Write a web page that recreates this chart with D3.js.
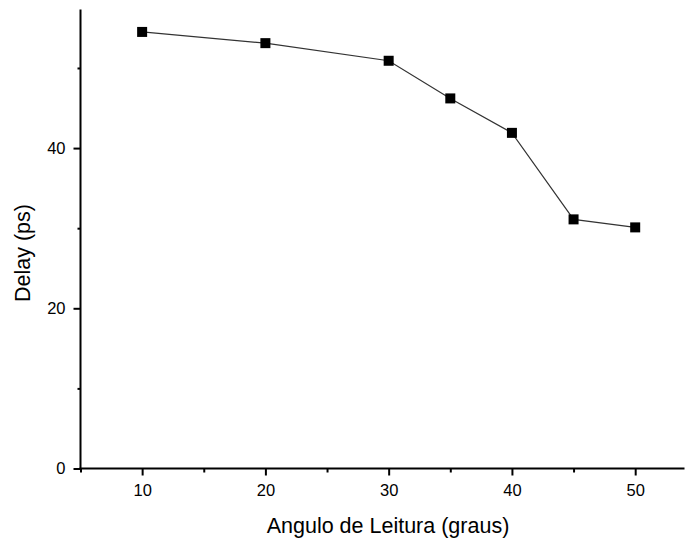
<!DOCTYPE html>
<html>
<head>
<meta charset="utf-8">
<script src="https://cdn.jsdelivr.net/npm/d3@7"></script>
<style>
  html, body { margin: 0; padding: 0; background: #fff; }
  svg { display: block; }
  text { font-family: "Liberation Sans", Arial, sans-serif; fill: #000; }
</style>
</head>
<body>
<svg id="chart" width="688" height="544"></svg>
<script>
// Reading angle (degrees) and measured delay (ps)
const angles = [10, 20, 30, 35, 40, 45, 50];
const delays = [54.5, 53.1, 50.9, 46.2, 41.9, 31.1, 30.1];
const xTicks = [10, 20, 30, 40, 50];
const xMinorTicks = [5, 15, 25, 35, 45];
const yTicks = [0, 20, 40];
const yMinorTicks = [10, 30, 50];

(function () {
  const svg = d3.select("#chart");
  const plotLeft = 80.5, plotRight = 684.5, plotTop = 9.5, plotBottom = 468.5;

  const x = d3.scaleLinear().domain([5, 54]).range([plotLeft, plotRight]);
  const y = d3.scaleLinear().domain([0, 57.3]).range([plotBottom, plotTop]);

  // Minor ticks
  svg.append("g")
    .attr("transform", `translate(0,${plotBottom})`)
    .call(d3.axisBottom(x).tickValues(xMinorTicks).tickSize(4).tickFormat(""))
    .call(g => g.select(".domain").remove())
    .call(g => g.selectAll("line").attr("stroke", "#000").attr("stroke-width", 2));
  svg.append("g")
    .attr("transform", `translate(${plotLeft},0)`)
    .call(d3.axisLeft(y).tickValues(yMinorTicks).tickSize(3).tickFormat(""))
    .call(g => g.select(".domain").remove())
    .call(g => g.selectAll("line").attr("stroke", "#000").attr("stroke-width", 2));

  // Major axes
  const xAxis = svg.append("g")
    .attr("transform", `translate(0,${plotBottom})`)
    .call(d3.axisBottom(x).tickValues(xTicks).tickSize(7).tickSizeOuter(0).tickPadding(9));
  const yAxis = svg.append("g")
    .attr("transform", `translate(${plotLeft},0)`)
    .call(d3.axisLeft(y).tickValues(yTicks).tickSize(7).tickSizeOuter(0).tickPadding(8));

  [xAxis, yAxis].forEach(g => {
    g.select(".domain").attr("stroke", "#000").attr("stroke-width", 2);
    g.selectAll(".tick line").attr("stroke", "#000").attr("stroke-width", 2);
    g.selectAll(".tick text")
      .style("font-family", '"Liberation Sans", Arial, sans-serif')
      .style("font-size", "16.5px")
      .attr("fill", "#000");
  });
  // Close the corner where the two axis lines meet
  xAxis.select(".domain").attr("d", `M${plotLeft - 1},0H${plotRight}`);
  yAxis.select(".domain").attr("d", `M0,${plotTop}V${plotBottom + 1}`);

  // Axis titles
  svg.append("text")
    .attr("x", 388)
    .attr("y", 533)
    .attr("text-anchor", "middle")
    .style("font-size", "21.5px")
    .text("Angulo de Leitura (graus)");
  svg.append("text")
    .attr("transform", "translate(30,253) rotate(-90)")
    .attr("text-anchor", "middle")
    .style("font-size", "21.5px")
    .text("Delay (ps)");

  // Data line and square markers
  const pts = angles.map((a, i) => [a, delays[i]]);
  svg.append("path")
    .datum(pts)
    .attr("fill", "none")
    .attr("stroke", "#333")
    .attr("stroke-width", 1.2)
    .attr("d", d3.line().x(d => x(d[0])).y(d => y(d[1])));

  const ms = 10;
  svg.append("g").selectAll("rect")
    .data(pts)
    .join("rect")
    .attr("x", d => x(d[0]) - ms / 2)
    .attr("y", d => y(d[1]) - ms / 2)
    .attr("width", ms)
    .attr("height", ms)
    .attr("fill", "#000");
})();
</script>
</body>
</html>
